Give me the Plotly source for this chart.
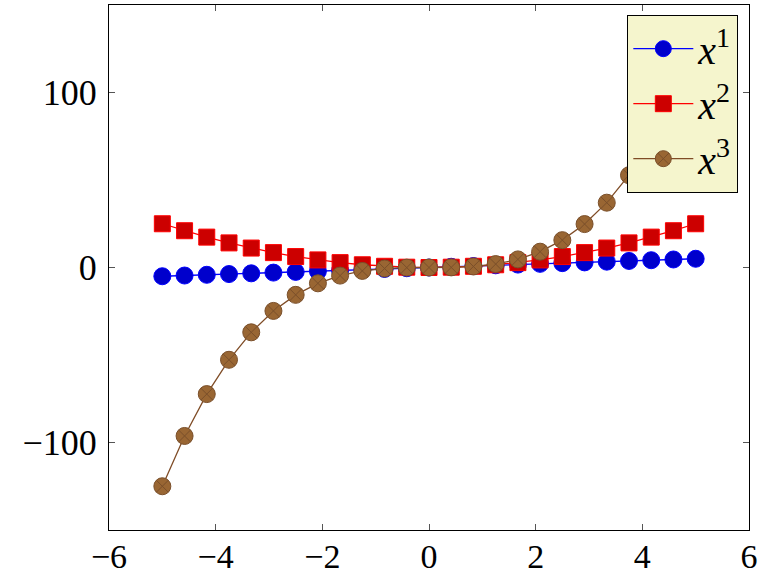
import plotly.graph_objects as go

x_vals = [-5.0, -4.583, -4.167, -3.75, -3.333, -2.917, -2.5, -2.083, -1.667, -1.25, -0.833, -0.417,
          0.0, 0.417, 0.833, 1.25, 1.667, 2.083, 2.5, 2.917, 3.333, 3.75, 4.167, 4.583, 5.0]
y_pow1 = [-5.0, -4.583, -4.167, -3.75, -3.333, -2.917, -2.5, -2.083, -1.667, -1.25, -0.833, -0.417,
          0.0, 0.417, 0.833, 1.25, 1.667, 2.083, 2.5, 2.917, 3.333, 3.75, 4.167, 4.583, 5.0]
y_pow2 = [25.0, 21.01, 17.36, 14.06, 11.11, 8.51, 6.25, 4.34, 2.78, 1.56, 0.69, 0.17,
          0.0, 0.17, 0.69, 1.56, 2.78, 4.34, 6.25, 8.51, 11.11, 14.06, 17.36, 21.01, 25.0]
y_pow3 = [-125.0, -96.27, -72.34, -52.73, -37.04, -24.81, -15.63, -9.04, -4.63, -1.95, -0.58, -0.07,
          0.0, 0.07, 0.58, 1.95, 4.63, 9.04, 15.63, 24.81, 37.04, 52.73, 72.34, 96.27, 125.0]
names = ["<i>x</i><sup>1</sup>", "<i>x</i><sup>2</sup>", "<i>x</i><sup>3</sup>"]
x_ticks = [-6, -4, -2, 0, 2, 4, 6]
y_ticks = [-100, 0, 100]

def lab(v):
    return ("\u2212" + str(abs(v))) if v < 0 else str(v)

fig = go.Figure()
fig.add_trace(go.Scatter(x=x_vals, y=y_pow1, name=names[0], mode="lines+markers",
                         line=dict(color="#0000ff", width=1.3),
                         marker=dict(symbol="circle", size=17, color="#0000cc",
                                     line=dict(color="#0000ff", width=1))))
fig.add_trace(go.Scatter(x=x_vals, y=y_pow2, name=names[1], mode="lines+markers",
                         line=dict(color="#ff0000", width=1.3),
                         marker=dict(symbol="square", size=16, color="#cc0000",
                                     line=dict(color="#ff0000", width=1))))
fig.add_trace(go.Scatter(x=x_vals, y=y_pow3, name=names[2], mode="lines+markers",
                         line=dict(color="#7f4c26", width=1.3),
                         marker=dict(symbol="circle-x", size=17, color="#996633",
                                     line=dict(color="#7a4f2a", width=1))))

axis_common = dict(showgrid=False, zeroline=False, showline=True, mirror="allticks",
                   linecolor="black", linewidth=1.2, ticks="inside", ticklen=6,
                   tickcolor="#555", tickwidth=0.8, automargin=False)

fig.update_layout(
    width=763, height=578,
    margin=dict(l=109, r=14, t=5, b=48),
    plot_bgcolor="white", paper_bgcolor="white",
    font=dict(family="Liberation Serif", size=34, color="black"),
    xaxis=dict(range=[-6, 6], tickvals=x_ticks, ticktext=[lab(v) for v in x_ticks],
               tickfont=dict(family="Liberation Serif", size=34, color="black"),
               ticklabelstandoff=-4, **axis_common),
    yaxis=dict(range=[-150, 150], tickvals=y_ticks, ticktext=[lab(v) for v in y_ticks],
               tickfont=dict(family="Liberation Serif", size=36, color="black"),
               ticklabelstandoff=4, **axis_common),
    legend=dict(x=0.983, y=0.981, xanchor="right", yanchor="top",
                bgcolor="#f5f5cd", bordercolor="black", borderwidth=1.2,
                font=dict(family="Liberation Serif", size=40, color="black"),
                itemwidth=60, tracegroupgap=0),
    showlegend=True,
)

fig.write_html("out.html")
